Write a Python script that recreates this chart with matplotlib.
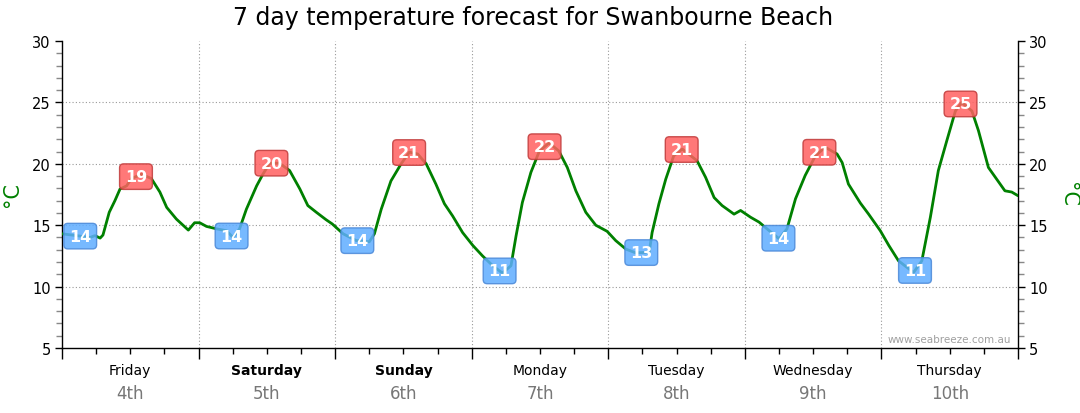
import numpy as np
import matplotlib
matplotlib.use("Agg")
from matplotlib import pyplot as plt
from matplotlib.ticker import MultipleLocator, FixedLocator
import matplotlib.transforms as mtransforms

# hours since Friday 00:00 and forecast temperature (deg C)
hours = [0.0, 2.6, 4.9, 5.8, 6.7, 7.2, 8.3, 9.3, 10.2, 11.35, 12.2, 14.0, 15.7, 17.2, 18.4,
         20.1, 22.2, 23.3, 24.2, 25.4, 27.2, 28.9, 30.05, 31.2, 32.4, 34.2, 35.3, 36.5, 38.2,
         40.0, 41.8, 43.2, 44.7, 46.4, 47.5, 49.4, 51.7, 54.0, 54.9, 56.1, 57.8, 59.6, 61.05,
         62.5, 64.0, 65.7, 67.2, 68.65, 70.4, 72.2, 73.9, 75.7, 77.4, 78.9, 79.8, 80.9, 82.4,
         83.9, 85.6, 87.3, 88.8, 90.3, 92.05, 93.8, 95.8, 97.3, 99.1, 100.8, 103.2, 103.7,
         104.9, 106.1, 107.5, 109.0, 111.6, 113.1, 114.6, 116.0, 118.1, 119.25, 121.0, 122.5,
         123.9, 126.0, 127.4, 128.9, 130.6, 132.4, 134.1, 136.2, 137.1, 138.2, 140.3, 141.75,
         143.8, 145.3, 147.0, 149.65, 151.1, 152.6, 154.0, 155.5, 157.0, 158.1, 159.9, 161.05,
         162.8, 165.7, 166.9, 168.0]
temps = [14.3, 14.15, 14.0, 14.15, 13.95, 14.2, 16.05, 17.0, 17.95, 18.2, 18.8, 19.15, 18.8, 17.7,
         16.45, 15.5, 14.6, 15.2, 15.2, 14.9, 14.7, 14.55, 14.0, 14.7, 16.3, 18.2, 19.15, 20.05,
         20.05, 19.45, 17.95, 16.6, 16.05, 15.45, 15.1, 14.3, 13.75, 13.65, 14.3, 16.3, 18.6,
         20.0, 20.95, 20.8, 20.0, 18.35, 16.75, 15.75, 14.4, 13.35, 12.5, 11.7, 11.1, 11.7, 14.15,
         16.85, 19.3, 21.05, 21.7, 21.05, 19.7, 17.8, 16.05, 15.0, 14.5, 13.75, 13.05, 12.75,
         12.8, 14.4, 16.75, 18.75, 20.65, 21.2, 20.25, 18.9, 17.25, 16.6, 15.9, 16.2, 15.65,
         15.25, 14.7, 13.9, 14.7, 17.15, 19.05, 20.65, 21.35, 20.8, 20.1, 18.35, 16.8, 15.9,
         14.55, 13.35, 12.1, 11.15, 12.1, 15.65, 19.45, 21.9, 24.3, 25.0, 24.3, 22.7, 19.7,
         17.8, 17.7, 17.4]

# daily min / max markers
label_hours = [3.2, 13.0, 29.8, 36.8, 51.9, 61.0, 76.9, 84.8, 101.8, 108.9, 125.9, 133.1, 149.9, 157.9]
label_values = [14, 19, 14, 20, 14, 21, 11, 22, 13, 21, 14, 21, 11, 25]
label_kinds = ["min", "max"] * 7

day_names = ["Friday", "Saturday", "Sunday", "Monday", "Tuesday", "Wednesday", "Thursday"]
day_dates = ["4th", "5th", "6th", "7th", "8th", "9th", "10th"]
weekend = ["Saturday", "Sunday"]

fig = plt.figure(figsize=(10.8, 4.14), dpi=100)
ax = fig.add_axes([62 / 1080, 1 - 349 / 414, (1018 - 62) / 1080, 307 / 414])

ax.plot(hours, temps, color="#008000", linewidth=2.0, zorder=3,
        solid_joinstyle="round", solid_capstyle="round")

ax.set_xlim(0, 168)
ax.set_ylim(5, 30)

# grid
for v in [10, 15, 20, 25]:
    ax.axhline(v, color="#999999", linewidth=0.8, linestyle=(0, (1, 2)), zorder=1)
for d in range(1, 7):
    ax.axvline(d * 24, color="#999999", linewidth=0.8, linestyle=(0, (1, 2)), zorder=1)

# ticks
ax.xaxis.set_major_locator(FixedLocator(np.arange(0, 169, 24)))
ax.xaxis.set_minor_locator(MultipleLocator(6))
ax.set_xticklabels([])
ax.tick_params(axis="x", which="major", length=8, width=1, color="black", direction="out")
ax.tick_params(axis="x", which="minor", length=4, width=1, color="black", direction="out")

ax.yaxis.set_major_locator(MultipleLocator(5))
ax.yaxis.set_minor_locator(MultipleLocator(1))
ax.tick_params(axis="y", which="major", length=5, width=1, color="black", labelsize=10.5,
               left=True, right=True, labelleft=True, labelright=True, pad=3)
ax.tick_params(axis="y", which="minor", length=4, width=1, color="#888888",
               left=True, right=True)

ax.spines["top"].set_visible(False)
for s in ["left", "right", "bottom"]:
    ax.spines[s].set_linewidth(1)

# day labels
trans = mtransforms.blended_transform_factory(ax.transData, ax.transAxes)
for i, (name, date) in enumerate(zip(day_names, day_dates)):
    xc = i * 24 + 12
    ax.text(xc, -0.071, name, transform=trans, ha="center", va="center", fontsize=10,
            fontweight="bold" if name in weekend else "normal", color="black")
    ax.text(xc, -0.147, date, transform=trans, ha="center", va="center", fontsize=12,
            color="#777777")

# min / max boxes
label_y = np.interp(label_hours, hours, temps)
for h, y, v, k in zip(label_hours, label_y, label_values, label_kinds):
    if k == "max":
        fc, ec = "#ff6161", "#c03a3a"
    else:
        fc, ec = "#5fadff", "#4a88d8"
    ax.text(h, y, str(v), ha="center", va="center", fontsize=11.5, fontweight="bold",
            color="white", zorder=5,
            bbox=dict(boxstyle="round,pad=0.33,rounding_size=0.25", fc=fc, ec=ec, lw=1, alpha=0.85))

# axis labels
fig.text(12 / 1080, 1 - 195 / 414, "°C", rotation=90, ha="center", va="center",
         fontsize=15, color="#008000")
fig.text(1068 / 1080, 1 - 195 / 414, "°C", rotation=270, ha="center", va="center",
         fontsize=15, color="#008000")

fig.text(533 / 1080, 1 - 18 / 414, "7 day temperature forecast for Swanbourne Beach",
         ha="center", va="center", fontsize=17, color="black")

ax.text(0.993, 0.03, "www.seabreeze.com.au", transform=ax.transAxes, ha="right", va="center",
        fontsize=7.5, color="#a0a0a0")

plt.savefig("out.png", dpi=100)
